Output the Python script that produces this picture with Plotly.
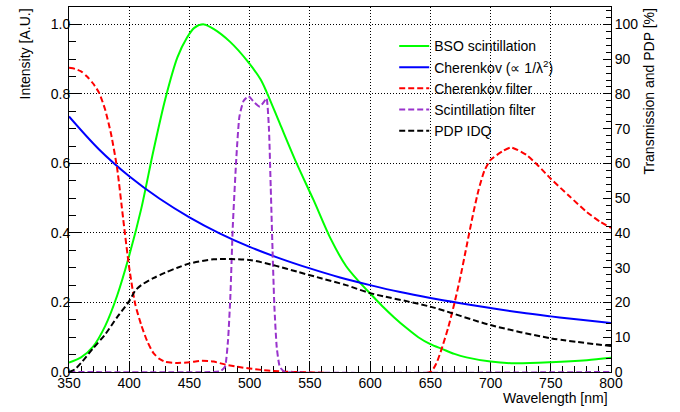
import plotly.graph_objects as go

# Emission spectra (left axis, arbitrary units)
bso_wl = [350, 360, 370, 380, 390, 400, 410, 420, 430, 440, 448, 454, 462, 470, 484,
          498, 509, 514, 525, 539, 553, 567, 580, 590, 600, 610, 620, 630, 640, 650,
          660, 670, 680, 700, 720, 750, 780, 800]
bso_val = [0.027, 0.042, 0.073, 0.132, 0.22, 0.335, 0.47, 0.635, 0.786, 0.905, 0.962, 0.99,
           1.0, 0.987, 0.949, 0.895, 0.842, 0.806, 0.715, 0.60, 0.495, 0.385, 0.305, 0.263,
           0.226, 0.19, 0.157, 0.127, 0.10, 0.08, 0.066, 0.052, 0.042, 0.030, 0.025, 0.028,
           0.034, 0.041]

cher_wl = [350, 375, 400, 425, 450, 475, 500, 525, 550, 575, 600, 625, 650, 675, 700,
           725, 750, 775, 800]
cher_val = [0.735, 0.640, 0.563, 0.499, 0.445, 0.399, 0.360, 0.327, 0.298, 0.272, 0.250,
            0.230, 0.213, 0.198, 0.184, 0.171, 0.160, 0.150, 0.141]

# Filter transmissions and photodetection probability (right axis, %)
cfilt_wl = [350, 355, 360, 365, 370, 375, 380, 385, 390, 395, 400, 405, 410, 415, 420,
            425, 430, 440, 450, 460, 470, 480, 490, 500, 510, 520, 530, 540, 650, 655,
            660, 665, 670, 675, 680, 685, 690, 695, 700, 710, 717, 730, 740, 750, 766,
            780, 791, 800]
cfilt_val = [87.5, 87.2, 86.5, 85.0, 83.0, 80.3, 75.5, 68.3, 58.5, 44.0, 30.0, 19.5, 13.5,
             8.8, 5.5, 3.8, 2.9, 2.6, 2.8, 3.2, 3.0, 2.1, 1.5, 1.0, 0.6, 0.3, 0.1, 0.0,
             0.0, 2.5, 7.3, 13.0, 19.8, 27.4, 36.0, 44.6, 52.3, 58.0, 61.0, 63.5, 64.6,
             62.4, 59.2, 55.6, 50.4, 46.0, 43.2, 41.5]

sfilt_wl = [350, 470, 476, 479.5, 482, 484, 486, 489, 491.5, 495, 499, 504, 508.5, 512,
            514, 516, 517.5, 519, 520.5, 522.5, 525, 528, 530, 800]
sfilt_val = [0, 0, 0.3, 1.5, 9, 22, 42, 62, 73.5, 78, 79.3, 77.5, 76.3, 77.8, 78.8, 70,
             53, 35, 19, 7, 1.5, 0.3, 0, 0]

pdp_wl = [350, 355, 360, 370, 380, 390, 400, 405, 410, 420, 430, 440, 450, 470, 500, 520,
          540, 560, 580, 600, 650, 700, 750, 800]
pdp_val = [0, 0.8, 2.6, 6.8, 10.8, 15.8, 20.4, 23.4, 25, 27, 28.6, 30, 31.2, 32.4, 32.2,
           30.7, 28.8, 26.9, 25, 22.7, 18.8, 13.5, 9.7, 7.5]

FONT = "Liberation Sans, Arial, Helvetica, sans-serif"
DASH = "6px,3px"

fig = go.Figure()
fig.add_trace(go.Scatter(x=bso_wl, y=bso_val, mode="lines", name="BSO scintillation",
                         line=dict(color="#00ff00", width=2, shape="spline", smoothing=0.8)))
fig.add_trace(go.Scatter(x=cher_wl, y=cher_val, mode="lines",
                         name="Cherenkov (\u221d 1/\u03bb<sup>2</sup>)",
                         line=dict(color="#0000ff", width=2, shape="spline")))
fig.add_trace(go.Scatter(x=cfilt_wl, y=cfilt_val, mode="lines", name="Cherenkov filter",
                         yaxis="y2",
                         line=dict(color="#ff0000", width=2, dash=DASH, shape="spline",
                                   smoothing=0.6)))
fig.add_trace(go.Scatter(x=sfilt_wl, y=sfilt_val, mode="lines", name="Scintillation filter",
                         yaxis="y2",
                         line=dict(color="#9933cc", width=2, dash=DASH, shape="spline",
                                   smoothing=0.5)))
fig.add_trace(go.Scatter(x=pdp_wl, y=pdp_val, mode="lines", name="PDP IDQ", yaxis="y2",
                         line=dict(color="#000000", width=2, dash=DASH, shape="spline",
                                   smoothing=0.8)))

grid = dict(showgrid=True, gridcolor="#000000", gridwidth=1, griddash="1px,2px")

fig.update_layout(
    width=680, height=412,
    margin=dict(l=69, r=69, t=7, b=40),
    paper_bgcolor="white", plot_bgcolor="white",
    font=dict(family=FONT, size=14, color="black"),
    showlegend=True,
    legend=dict(x=0.600, y=0.936, xanchor="left", yanchor="top",
                bgcolor="rgba(0,0,0,0)", borderwidth=0, font=dict(size=14)),
    xaxis=dict(range=[350, 800], tick0=350, dtick=50, ticks="inside", ticklen=11,
               tickwidth=1, tickcolor="black", showline=True, linecolor="black",
               linewidth=1, mirror=True, zeroline=False, layer="below traces",
               ticklabelstandoff=-2,
               minor=dict(dtick=10, ticklen=6, ticks="inside", tickcolor="black",
                          showgrid=False),
               tickfont=dict(size=14), **grid),
    yaxis=dict(range=[0, 1.05], tick0=0, dtick=0.2, tickformat=".1f", ticks="inside",
               ticklen=12, tickwidth=1, tickcolor="black", showline=True,
               linecolor="black", linewidth=1, zeroline=False, ticklabelstandoff=-5,
               minor=dict(dtick=0.05, ticklen=7, ticks="inside", tickcolor="black",
                          showgrid=False),
               tickfont=dict(size=14), **grid),
    yaxis2=dict(range=[0, 105], overlaying="y", side="right", tick0=0, dtick=10,
                ticks="inside", ticklen=8, tickwidth=1, tickcolor="black",
                showline=True, linecolor="black", linewidth=1, showgrid=False,
                zeroline=False,
                minor=dict(dtick=2, ticklen=5, ticks="inside", tickcolor="black"),
                tickfont=dict(size=14)),
    yaxis3=dict(range=[0, 105], overlaying="y", side="right", tick0=0, dtick=20,
                ticks="inside", ticklen=11, tickwidth=1, tickcolor="black",
                showticklabels=False, showgrid=False, zeroline=False, showline=False),
)

fig.add_annotation(text="Intensity [A.U.]", xref="paper", yref="paper",
                   x=-0.083, y=1.0, xanchor="center", yanchor="top", textangle=-90,
                   showarrow=False, font=dict(size=14))
fig.add_annotation(text="Transmission and PDP [%]", xref="paper", yref="paper",
                   x=1.070, y=1.005, xanchor="center", yanchor="top", textangle=-90,
                   showarrow=False, font=dict(size=14))
fig.add_annotation(text="Wavelength [nm]", xref="paper", yref="paper",
                   x=0.998, y=-0.071, xanchor="right", yanchor="middle",
                   showarrow=False, font=dict(size=14))

fig.write_html("out.html")
